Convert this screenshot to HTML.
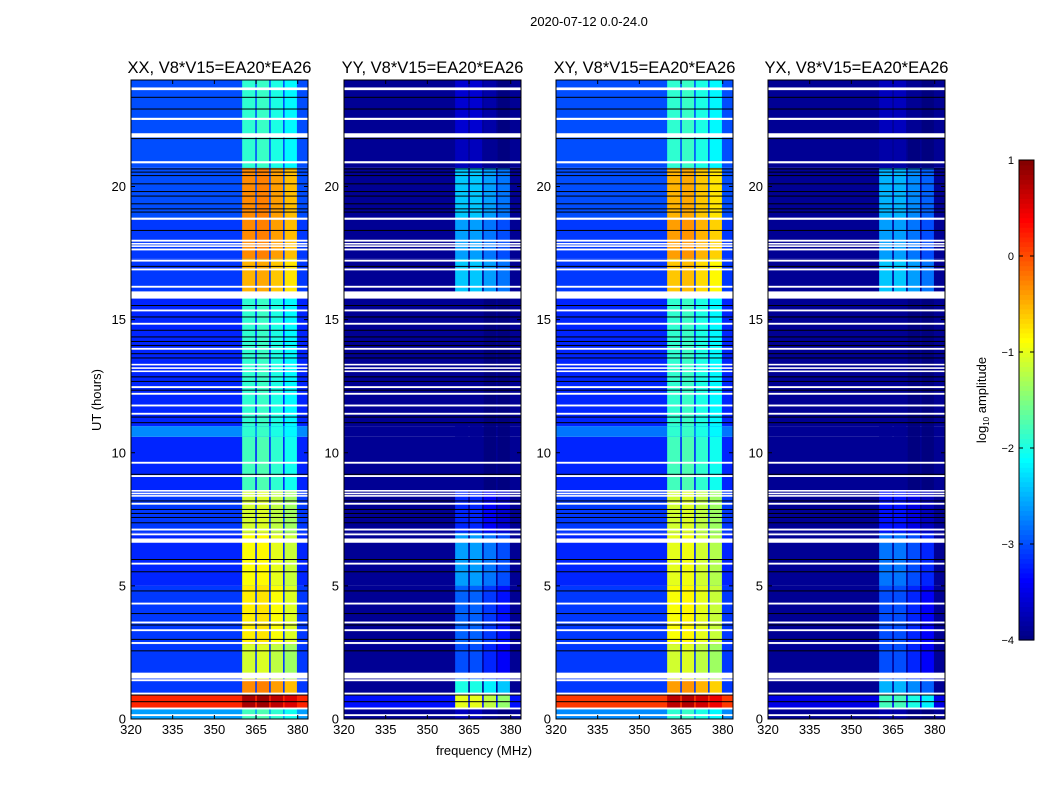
<!DOCTYPE html>
<html><head><meta charset="utf-8">
<style>
body{margin:0;background:#fff;}
svg text{font-family:"Liberation Sans",sans-serif;fill:#000;}
</style></head>
<body>
<svg id="fig" width="1050" height="800" xmlns="http://www.w3.org/2000/svg">
<text x="589" y="26" font-size="13" text-anchor="middle">2020-07-12 0.0-24.0</text>
<text x="101" y="400" font-size="13" text-anchor="middle" transform="rotate(-90 101 400)">UT (hours)</text>
<text x="484" y="755" font-size="13" text-anchor="middle">frequency (MHz)</text>
<g id="panels"></g>
<g id="cbar"></g>
</svg>
<script>
// time segment boundaries (hours)
const segBounds=[0,0.4,0.9,1.5,2.8,5,7,8.6,10.6,11,15.8,17.3,18.8,20.7,21.9,24];
// subband edges (MHz)
const subEdges=[360,365,370,375,380];
const xTicks=[320,335,350,365,380];
const yTicks=[0,5,10,15,20];
const cbTicks=[1,0,-1,-2,-3,-4];
const panelTitles=["XX, V8*V15=EA20*EA26","YY, V8*V15=EA20*EA26","XY, V8*V15=EA20*EA26","YX, V8*V15=EA20*EA26"];
const xxBg=[-2.6,0.2,-3.1,-3.1,-3.1,-3.2,-3.1,-3.2,-2.7,-3.2,-3.1,-3.1,-3.0,-3.0,-3.0];
const xxBand=[-1.8,0.8,-0.3,-1.1,-0.8,-0.9,-1.1,-1.8,-1.9,-1.9,-0.5,-0.3,-0.3,-1.9,-1.9];
const yyBg=[-3.9,-3.3,-3.9,-3.9,-3.9,-3.9,-3.9,-3.9,-3.9,-3.9,-3.9,-3.9,-3.9,-3.9,-3.9];
const yyBand=[-3.7,-1.0,-2.0,-3.0,-2.9,-2.6,-3.2,-3.9,-3.9,-3.9,-2.4,-2.6,-2.4,-3.7,-3.6];
const xyBg=[-2.7,0.1,-3.1,-3.1,-3.1,-3.2,-3.1,-3.2,-2.8,-3.2,-3.1,-3.1,-3.0,-3.0,-3.0];
const xyBand=[-1.9,0.7,-0.4,-1.1,-0.9,-1.0,-1.1,-1.8,-1.9,-1.9,-0.6,-0.4,-0.5,-1.9,-1.9];
const yxBg=[-3.9,-3.5,-3.9,-3.9,-3.9,-3.9,-3.9,-3.9,-3.9,-3.9,-3.9,-3.9,-3.9,-3.9,-3.9];
const yxBand=[-3.8,-1.8,-2.5,-3.0,-3.0,-2.8,-3.3,-3.9,-3.9,-3.9,-2.4,-2.6,-2.5,-3.8,-3.7];
const xxGain=[0,0.05,-0.1,-0.25];
const yyGain=[0,0,-0.2,-0.4];
const whiteFlags=[[23.62,23.72],[22.5,22.58],[21.84,22.0],[20.87,20.95],[18.75,18.83],[17.93,18.0],[17.82,17.88],[17.73,17.79],[17.6,17.67],[17.18,17.25],[16.85,16.92],[16.2,16.27],[15.79,16.06],[15.31,15.38],[14.81,14.88],[13.87,13.94],[13.28,13.34],[13.15,13.21],[13.03,13.09],[12.43,12.5],[12.18,12.25],[11.74,11.81],[11.43,11.5],[9.59,9.66],[9.09,9.16],[8.54,8.6],[8.44,8.5],[8.35,8.41],[8.05,8.12],[7.08,7.15],[6.9,6.97],[6.62,6.78],[5.8,5.87],[4.3,4.37],[3.59,3.66],[3.3,3.37],[2.82,2.89],[1.52,1.74],[1.42,1.49],[0.92,0.99],[0.36,0.43],[0.11,0.18]];
const blackLines=[23.35,22.91,21.8,20.66,20.54,20.41,20.1,19.81,19.64,19.35,19.16,19.04,18.35,17.0,15.53,15.1,14.6,14.35,14.18,14.03,13.72,13.56,12.85,12.68,12.35,11.34,11.13,9.19,8.19,7.87,7.72,7.57,7.37,5.99,5.53,4.81,3.96,3.53,2.99,2.56,0.9,0.65];

const panels=[
 {x0:131,bg:xxBg,band:xxBand,gain:xxGain,name:"xx"},
 {x0:344,bg:yyBg,band:yyBand,gain:yyGain,name:"yy"},
 {x0:556,bg:xyBg,band:xyBand,gain:xxGain,name:"xy"},
 {x0:768,bg:yxBg,band:yxBand,gain:yyGain,name:"yx"}];
const W=177,TOP=80,BOT=719,FMIN=320,FMAX=383.7,TMAX=24;
const NS="http://www.w3.org/2000/svg";
function jet(v){
  let t=Math.max(0,Math.min(1,(v+4)/5));
  const f=(a)=>Math.max(0,Math.min(1,1.5-Math.abs(4*t-a)));
  const r=f(3),g=f(2),b=f(1);
  return `rgb(${Math.round(r*255)},${Math.round(g*255)},${Math.round(b*255)})`;
}
function el(tag,attrs,parent){const e=document.createElementNS(NS,tag);for(const k in attrs)e.setAttribute(k,attrs[k]);parent.appendChild(e);return e;}
const root=document.getElementById('panels');
panels.forEach((p,pi)=>{
  const xs=f=>p.x0+(f-FMIN)/(FMAX-FMIN)*W;
  const ys=t=>BOT-t/TMAX*(BOT-TOP);
  const g=el('g',{},root);
  
  
  for(let s=0;s<segBounds.length-1;s++){
    const y1=ys(segBounds[s+1]),y0=ys(segBounds[s]);
    const r=el('rect',{x:p.x0,y:y1,width:W,height:y0-y1,fill:jet(p.bg[s])},g);
    
    
    for(let k=0;k<4;k++){
      const xa=xs(subEdges[k])+(k>0?0.8:0),xb=xs(subEdges[k+1])-0.8;
      const c=el('rect',{x:xa,y:y1,width:xb-xa,height:y0-y1,fill:jet(p.band[s]+p.gain[k])},g);
      
      
    }
  }
  blackLines.forEach(t=>{const l=el('rect',{x:p.x0,y:ys(t)-0.5,width:W,height:1,fill:'#000'},g);
    
    });
  whiteFlags.forEach(f=>{const y1=ys(f[1]),y0=ys(f[0]);const l=el('rect',{x:p.x0,y:y1,width:W,height:Math.max(1.5,y0-y1),fill:'#fff'},g);
    
    });
  const fr=el('rect',{x:p.x0,y:TOP,width:W,height:BOT-TOP,fill:'none',stroke:'#000','stroke-width':1},g);
  
  
  const tt=el('text',{x:p.x0+W/2,y:TOP-7,'font-size':16.5,'text-anchor':'middle'},g);
  tt.textContent=panelTitles[pi];
  
  
  xTicks.forEach(v=>{const x=xs(v);
    el('line',{x1:x,x2:x,y1:BOT,y2:BOT-4,stroke:'#000'},g);
    el('line',{x1:x,x2:x,y1:TOP,y2:TOP+4,stroke:'#000'},g);
    const t=el('text',{x:x,y:BOT+15,'font-size':13,'text-anchor':'middle'},g);t.textContent=v;
    
    });
  yTicks.forEach(v=>{const y=ys(v);
    el('line',{x1:p.x0,x2:p.x0+4,y1:y,y2:y,stroke:'#000'},g);
    el('line',{x1:p.x0+W,x2:p.x0+W-4,y1:y,y2:y,stroke:'#000'},g);
    const t=el('text',{x:p.x0-5,y:y+4.5,'font-size':13,'text-anchor':'end'},g);t.textContent=v;
    
    });
});
const cb=document.getElementById('cbar');
const CX=1019,CW=15,CT=160,CB=640;
const cys=v=>CB-(v+4)/5*(CB-CT);
for(let i=0;i<100;i++){const v0=-4+i*0.05;
  el('rect',{x:CX,y:cys(v0+0.05),width:CW,height:(CB-CT)/100+0.6,fill:jet(v0+0.025)},cb);}
el('rect',{x:CX,y:CT,width:CW,height:CB-CT,fill:'none',stroke:'#000'},cb);
cbTicks.forEach(v=>{const y=cys(v);
  el('line',{x1:CX,x2:CX+4,y1:y,y2:y,stroke:'#000'},cb);
  el('line',{x1:CX+CW,x2:CX+CW-4,y1:y,y2:y,stroke:'#000'},cb);
  const t=el('text',{x:CX-5,y:y+4,'font-size':11,'text-anchor':'end'},cb);
  t.textContent=v<0?'\u2212'+(-v):String(v);
  
  });
const cl=el('text',{x:986,y:400,'font-size':13,'text-anchor':'middle',transform:'rotate(-90 986 400)'},cb);
cl.innerHTML='log<tspan font-size="8" dy="3">10</tspan><tspan dy="-3"> amplitude</tspan>';


</script>
</body></html>
